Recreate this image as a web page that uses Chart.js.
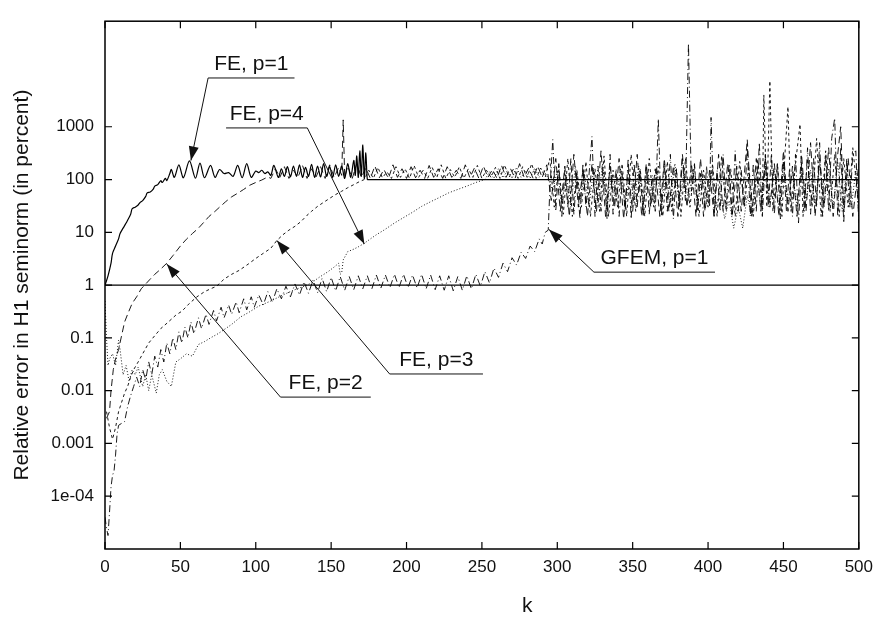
<!DOCTYPE html>
<html>
<head>
<meta charset="utf-8">
<script src="https://cdn.jsdelivr.net/npm/chart.js@4.4.1/dist/chart.umd.min.js"></script>
<style>
  html, body { margin: 0; padding: 0; background: #fff; }
  canvas { display: block; }
</style>
</head>
<body>
<canvas id="errChart" width="881" height="621"></canvas>
<script>
// ── Data ────────────────────────────────────────────────────────
const xTickValues = [0, 50, 100, 150, 200, 250, 300, 350, 400, 450, 500];
const yTickValues = [1e-4, 1e-3, 1e-2, 1e-1, 1, 10, 100, 1000];
const yTickLabels = ['1e-04', '0.001', '0.01', '0.1', '1', '10', '100', '1000'];

// reference level at 1 %
const refK   = [0, 500];
const refErr = [1, 1];

// FE, p=1 (solid)
const fe1K = [0,2,4,5,7,9,10,12,14,15,17,18,20,22,23,25,27,28,30,32,33,35,37,38,40,41,43,44,46,49,
  52,56,60,63,66,70,73,76,79,82,85,88,91,94,97,100,102,104,106,108,110,112,115,117,119,121,123,125,127,129,
  131,133,135,137,139,141,143,145,147,149,151,153,155,157,159,161,163,165,166,167,168,169,170,171,172,173,174,175,500];
const fe1Err = [1.0,1.5,2.6,4.0,5.5,7.5,9.5,12,15,17,22,28,30,33,36,40,48,56,58,66,75,80,95,88,105,96,130,155,110,190,
  108,225,106,205,108,185,110,155,130,135,115,185,108,200,110,145,135,150,130,140,120,185,110,160,115,175,112,180,115,190,
  110,170,115,195,110,180,112,200,115,175,110,190,115,180,105,200,110,230,120,280,110,350,115,450,105,320,100,100,100];

// FE, p=2 (dashed)
const fe2K = [1,3,4,5.5,7,9,11,13,15,18,21,24,27,30,33,36,41,45,50,54,58,62,66,69,73,76,80,84,88,92,96,100,104,108,
  110,113,116,119,122,125,128,131,134,137,140,143,146,149,152,155,157,158,159,
  161,164,167,170,173,176,179,182,185,188,191,194,197,200,203,206,209,212,215,218,221,224,227,230,233,236,239,242,
  245,248,251,254,257,260,263,266,269,272,275,278,281,284,287,290,293,
  296,299,302,305,308,311,314,317,320,323,326,329,332,335,338,341,344,347,350,353,356,359,362,365,368,371,374,377,
  380,383,386,389,392,395,398,401,404,407,410,413,416,419,422,426,429,432,435,438,441,444,447,450,453,456,459,462,
  465,468,471,474,477,480,483,486,488,490,493,496,500];
const fe2Err = [0.003,0.004,0.01,0.025,0.04,0.06,0.11,0.2,0.28,0.45,0.6,0.85,1.05,1.3,1.6,1.9,2.6,3.6,5.5,7.4,9.5,12,16,20,25,30,38,47,55,65,78,88,98,112,
  105,160,110,175,105,150,110,185,105,160,112,175,105,190,110,170,120,1350,110,
  180,105,200,110,165,105,180,108,155,105,190,110,160,105,175,108,150,105,185,110,160,105,175,110,150,105,190,108,
  165,105,180,110,155,105,185,110,160,105,200,110,165,105,180,110,190,
  40,250,25,180,20,300,30,150,20,200,25,350,20,180,30,250,18,150,25,300,20,200,30,160,20,250,25,180,
  20,300,30,200,20,250,25,150,20,300,25,200,20,180,25,570,20,250,25,300,30,200,20,350,25,180,20,300,
  25,500,20,250,30,400,20,300,1000,25,250,20,200];

// FE, p=3 (short dashes)
const fe3K = [1,3,5,7,9,11,13,15,17,19,22,25,29,33,37,42,47,51,56,61,66,70,74,79,84,89,95,100,105,110,
  114,118,122,126,130,134,137,141,145,149,153,157,161,165,169,
  172,175,178,181,184,187,190,193,196,199,202,205,208,211,214,217,220,223,226,229,232,235,238,241,244,247,250,
  253,256,259,262,265,268,271,274,277,280,283,286,289,292,295,
  298,301,304,307,310,313,316,319,322,325,328,331,334,337,340,343,346,349,352,355,358,361,364,367,370,373,376,
  379,382,385,388,391,394,397,400,403,406,409,412,415,418,421,424,427,430,433,436,
  437,439,441,443,446,449,451,453,455,458,461,463,466,469,472,475,478,481,484,487,490,493,496,500];
const fe3Err = [0.004,0.002,0.0012,0.002,0.004,0.006,0.009,0.012,0.018,0.025,0.035,0.05,0.08,0.11,0.15,0.2,0.27,0.32,0.45,0.6,0.75,0.85,0.95,1.3,1.6,1.9,2.5,3.2,4.0,5.0,
  7.0,9,11,13,16,21,25,31,37,44,52,60,70,80,92,
  100,150,105,170,108,140,105,175,110,160,105,185,110,150,105,170,108,190,105,155,110,175,105,160,110,185,105,
  150,110,170,105,190,110,160,105,175,110,200,105,165,110,250,
  30,180,22,250,20,150,30,220,20,160,25,280,20,150,30,200,20,300,25,160,20,250,30,180,20,220,25,
  160,20,250,30,180,20,150,30,200,20,280,25,160,20,220,30,180,20,250,25,
  4000,30,7400,25,200,20,300,2400,25,200,1120,20,250,30,600,20,350,25,300,20,250,30,400,30];

// FE, p=4 (dotted)
const fe4K = [0,1,2,3,5,7,9,10,12,14,16,18,20,22,25,27,29,31,34,36,38,41,44,47,50,54,58,62,66,70,
  75,80,84,90,95,102,110,118,125,132,137,142,148,152,155,156,157,158,161,165,168,172,176,180,185,192,198,204,210,216,
  222,228,234,240,246,252,
  255,258,261,264,267,270,273,276,279,282,285,288,291,294,
  297,300,303,306,309,312,315,318,321,324,327,330,333,336,339,342,345,348,351,354,357,360,363,366,369,372,375,
  378,381,384,387,390,393,396,399,402,405,
  408,411,414,417,420,423,426,429,432,435,438,441,444,447,450,453,456,459,462,465,468,471,474,477,480,483,486,
  489,492,495,498,500];
const fe4Err = [0.5,0.1,0.03,0.04,0.05,0.03,0.09,0.06,0.02,0.03,0.015,0.025,0.02,0.028,0.012,0.02,0.01,0.02,0.009,0.02,
  0.025,0.015,0.012,0.035,0.04,0.05,0.045,0.075,0.085,0.1,0.12,0.15,0.18,0.25,0.3,0.4,0.5,0.65,0.8,0.95,
  1.1,1.4,1.8,2.2,2.6,1.6,1.7,3.0,4.3,4.8,5.3,6.2,7.5,9,11,15,19,24,31,38,46,56,65,75,88,100,
  140,105,160,108,150,105,170,110,145,105,165,110,150,105,
  60,150,35,120,30,180,40,130,30,150,35,200,30,120,40,160,30,130,35,180,30,140,40,160,30,120,35,
  200,30,140,40,160,30,130,35,150,30,
  60,18,40,12,30,12,50,20,130,30,180,35,150,30,200,35,140,30,180,40,150,30,200,35,160,30,220,
  25,180,30,150,20];

// GFEM, p=1 (dash-dot)
const gfemK = [0,1,2,3,4,5,6,7,8,9,11,13,15,17,19,21,23,25,27,29,31,33,35,37,39,41,43,45,47,49,51,53,55,57,59,
  62,64,67,69,72,74,77,79,82,84,87,89,92,94,97,99,
  102,105,108,111,114,117,120,123,126,129,132,135,138,141,144,147,150,153,156,159,162,165,168,171,174,177,180,
  183,186,189,192,195,198,201,204,207,210,213,216,219,222,225,228,231,234,237,240,243,246,249,252,255,258,261,
  264,267,270,273,276,279,282,285,288,290,292,294,
  295,297,299,301,303,305,307,309,311,313,315,317,319,321,323,325,327,329,331,333,335,337,339,341,343,345,347,
  349,351,353,355,357,359,361,363,365,367,369,371,373,375,377,379,381,383,385,387,389,391,393,395,397,399,401,
  402,404,406,408,410,412,414,416,418,420,422,424,426,428,430,432,434,436,438,440,442,444,446,448,450,452,454,
  456,458,460,462,464,466,468,470,472,474,476,478,480,482,484,486,488,490,492,494,496,498,500];
const gfemErr = [4e-5,2.5e-5,1.8e-5,5e-5,1.5e-4,2.5e-4,3e-4,6e-4,1.5e-3,2.2e-3,2.4e-3,2.6e-3,5e-3,8e-3,0.012,0.018,0.012,
  0.025,0.016,0.035,0.02,0.045,0.028,0.06,0.035,0.08,0.05,0.1,0.06,0.13,0.08,0.16,0.1,0.2,0.12,
  0.24,0.15,0.28,0.18,0.33,0.21,0.38,0.24,0.42,0.28,0.48,0.3,0.55,0.34,0.6,0.38,
  0.65,0.42,0.75,0.48,0.85,0.55,0.95,0.6,1.05,0.65,1.15,0.7,1.25,0.72,1.35,0.75,1.4,0.78,1.45,0.8,1.45,0.82,1.5,0.85,1.5,0.85,1.55,
  0.88,1.55,0.9,1.6,0.9,1.6,0.9,1.55,0.88,1.6,0.85,1.55,0.82,1.5,0.8,1.5,0.78,1.45,0.8,1.5,0.85,1.6,0.95,1.8,1.1,2.1,1.4,
  2.6,1.8,3.3,2.4,4.2,3.2,5.5,4.3,7.5,6,10,11,
  60,570,25,200,20,150,30,250,22,130,18,200,30,120,650,20,180,25,140,18,300,22,160,20,130,25,250,
  18,200,30,150,20,180,22,120,25,1400,20,200,25,300,18,150,30,250,40,38000,60,200,25,130,20,180,30,
  1500,20,150,25,300,30,200,22,350,25,150,30,400,20,200,25,500,20,250,30,300,22,200,18,250,25,150,
  20,300,15,200,25,400,22,250,30,500,20,300,25,600,1450,20,400,15,250,30,300,350,15];

// Labels with leader lines: text, arrow tip (k, err), underline span (k) and height (err)
const noteText  = ['FE, p=1', 'FE, p=4', 'FE, p=2', 'FE, p=3', 'GFEM, p=1'];
const noteTipK  = [57, 172, 41, 114, 294.5];
const noteTipV  = [229, 6.0, 2.5, 7.0, 11.3];
const noteLineK = [[68.4, 125.7], [80.3, 134.2], [116.4, 176.3], [188.8, 250.7], [324.3, 404.6]];
const noteLineV = [8400, 950, 0.00755, 0.0207, 1.76];
const noteFromEnd = [false, true, false, false, false];

const FONT = '"Liberation Sans", Arial, Helvetica, sans-serif';
const INK  = '#111';

// ── Helpers ─────────────────────────────────────────────────────
function pts(ks, vs) {
    return ks.map((k, i) => ({ x: k, y: vs[i] }));
}

function line(label, ks, vs, dash, width, tension) {
    return {
        label: label,
        data: pts(ks, vs),
        borderColor: '#000',
        borderWidth: width,
        borderDash: dash,
        pointRadius: 0,
        fill: false,
        tension: tension || 0,
    };
}

// frame, inward ticks, labelled arrows, x title
const framePlugin = {
    id: 'frameNotes',
    afterDraw(chart) {
        const { ctx, chartArea: a } = chart;
        const xs = chart.scales.x, ys = chart.scales.y;
        ctx.save();
        ctx.strokeStyle = '#000';
        ctx.lineWidth = 1.5;
        ctx.strokeRect(a.left, a.top, a.right - a.left, a.bottom - a.top);

        ctx.lineWidth = 1.2;
        ctx.beginPath();
        xTickValues.forEach(v => {
            const px = xs.getPixelForValue(v);
            ctx.moveTo(px, a.bottom); ctx.lineTo(px, a.bottom - 7);
            ctx.moveTo(px, a.top);    ctx.lineTo(px, a.top + 7);
        });
        yTickValues.forEach(v => {
            const py = ys.getPixelForValue(v);
            ctx.moveTo(a.left, py);  ctx.lineTo(a.left + 7, py);
            ctx.moveTo(a.right, py); ctx.lineTo(a.right - 7, py);
        });
        ctx.stroke();

        ctx.strokeStyle = INK;
        ctx.fillStyle = INK;
        ctx.lineWidth = 1;
        ctx.font = '21px ' + FONT;
        ctx.textAlign = 'center';
        ctx.textBaseline = 'alphabetic';
        noteText.forEach((txt, i) => {
            const x0 = xs.getPixelForValue(noteLineK[i][0]);
            const x1 = xs.getPixelForValue(noteLineK[i][1]);
            const yl = ys.getPixelForValue(noteLineV[i]);
            const ax = noteFromEnd[i] ? x1 : x0;
            const tx = xs.getPixelForValue(noteTipK[i]);
            const ty = ys.getPixelForValue(noteTipV[i]);
            ctx.beginPath();
            ctx.moveTo(x0, yl); ctx.lineTo(x1, yl);
            ctx.moveTo(ax, yl); ctx.lineTo(tx, ty);
            ctx.stroke();
            const ang = Math.atan2(ty - yl, tx - ax);
            const L = 14, W = 5;
            const bx = tx - L * Math.cos(ang), by = ty - L * Math.sin(ang);
            ctx.beginPath();
            ctx.moveTo(tx, ty);
            ctx.lineTo(bx + W * Math.sin(ang), by - W * Math.cos(ang));
            ctx.lineTo(bx - W * Math.sin(ang), by + W * Math.cos(ang));
            ctx.closePath();
            ctx.fill();
            ctx.fillText(txt, (x0 + x1) / 2, yl - 8);
        });

        // x axis title sits right of centre in the reference
        ctx.fillText('k', xs.getPixelForValue(280), 612);
        ctx.restore();
    }
};

// ── Chart ───────────────────────────────────────────────────────
new Chart(document.getElementById('errChart'), {
    type: 'line',
    data: {
        datasets: [
            line('ref', refK, refErr, [], 1.4),
            line('FE, p=1', fe1K, fe1Err, [], 1.2, 0.3),
            line('FE, p=2', fe2K, fe2Err, [7, 4], 0.9),
            line('FE, p=3', fe3K, fe3Err, [3, 3], 0.9),
            line('FE, p=4', fe4K, fe4Err, [1, 2], 0.9),
            line('GFEM, p=1', gfemK, gfemErr, [7, 3, 1, 3], 0.9),
        ],
    },
    options: {
        responsive: false,
        devicePixelRatio: 1,
        animation: false,
        layout: { padding: { left: 0, right: 16, top: 1, bottom: 0 } },
        plugins: {
            legend: { display: false },
            tooltip: { enabled: false },
        },
        scales: {
            x: {
                type: 'linear',
                min: 0,
                max: 500,
                grid: { display: false, drawTicks: false },
                border: { display: false },
                afterBuildTicks: s => { s.ticks = xTickValues.map(v => ({ value: v })); },
                afterFit: s => { s.height = 72; },
                ticks: {
                    color: INK,
                    padding: 8,
                    maxRotation: 0,
                    font: { family: FONT, size: 17 },
                },
            },
            y: {
                type: 'logarithmic',
                min: 1e-5,
                max: 1e5,
                grid: { display: false, drawTicks: false },
                border: { display: false },
                afterBuildTicks: s => { s.ticks = yTickValues.map(v => ({ value: v })); },
                afterFit: s => { s.width = 105; },
                ticks: {
                    color: INK,
                    padding: 11,
                    font: { family: FONT, size: 17 },
                    callback: (v, i) => yTickLabels[i],
                },
                title: {
                    display: true,
                    text: 'Relative error in H1 seminorm (in percent)',
                    color: INK,
                    font: { family: FONT, size: 21 },
                    padding: { top: 10, bottom: 0 },
                },
            },
        },
    },
    plugins: [framePlugin],
});
</script>
</body>
</html>
